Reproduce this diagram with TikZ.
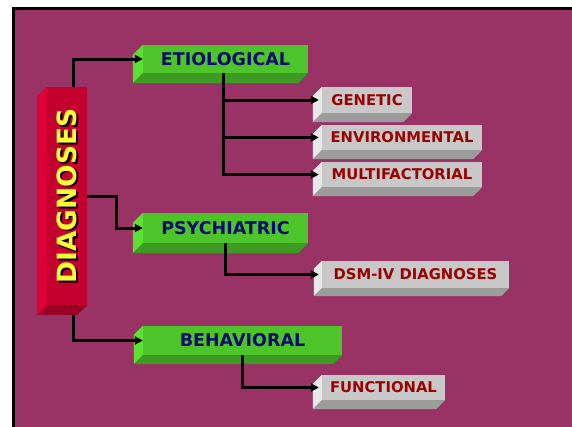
\documentclass[tikz,border=0pt]{standalone}
\usepackage{fontspec}
\setmainfont{DejaVu Sans}
\usetikzlibrary{arrows.meta,calc}
\pgfdeclarelayer{back}
\pgfsetlayers{back,main}

\definecolor{slide}{HTML}{993366}
\definecolor{redface}{HTML}{C4002F}
\definecolor{redlight}{HTML}{DE0036}
\definecolor{reddark}{HTML}{990022}
\definecolor{greenface}{HTML}{4CC42A}
\definecolor{greenlight}{HTML}{5CE034}
\definecolor{greendark}{HTML}{3D9A22}
\definecolor{greyface}{HTML}{C8C8C8}
\definecolor{greylight}{HTML}{E8E8E8}
\definecolor{greydark}{HTML}{9C9C9C}
\definecolor{navytext}{HTML}{0B0B6E}
\definecolor{redtext}{HTML}{990000}
\definecolor{yellowtext}{HTML}{FFFF33}

\tikzset{
  face/.style 2 args={inner sep=0pt, minimum width=#1, minimum height=#2},
  greenbox/.style={fill=greenface, text=navytext,
    font=\bfseries\fontsize{17.5}{17.5}\selectfont},
  greybox/.style={fill=greyface, text=redtext,
    font=\bfseries\fontsize{14.8}{14.8}\selectfont},
  redbox/.style={fill=redface},
  wire/.style={line width=3pt, line cap=butt,
    -{Triangle[length=8pt,width=8pt]}},
}

% side and bottom bevels of a face node: name, light, dark, depth
\newcommand\bevelsides[4]{%
  \fill[#2] (#1.north west) -- (#1.south west) -- ++(-#4,#4)
    -- ($(#1.north west)+(-#4,#4)$) -- cycle;
  \fill[#3] (#1.south west) -- (#1.south east) -- ++(-#4,#4)
    -- ($(#1.south west)+(-#4,#4)$) -- cycle;}

\begin{document}
\begin{tikzpicture}[x=1pt,y=-1pt]
\useasboundingbox (0,0) rectangle (572,426);
\begin{pgfonlayer}{back}
  \fill[white] (0,0) rectangle (572,426);
  \draw[line width=3pt, fill=slide] (13.5,8.5) rectangle (580,434);
\end{pgfonlayer}

% root
\node[redbox, face={40pt}{218pt}] (diag) at (67,196) {};
\bevelsides{diag}{redlight}{reddark}{10}
\node[rotate=90, text=black, font=\bfseries\fontsize{26.5}{26.5}\selectfont]
  (diagshadow) at (68.6,197.6) {DIAGNOSES};
\node[rotate=90, text=yellowtext, font=\bfseries\fontsize{26.5}{26.5}\selectfont]
  (diaglabel) at (67,196) {DIAGNOSES};

% categories
\node[greenbox, face={165pt}{28pt}] (etio) at (225.5,59) {ETIOLOGICAL};
\bevelsides{etio}{greenlight}{greendark}{10}
\node[greenbox, face={165pt}{30pt}] (psych) at (225.5,228) {PSYCHIATRIC};
\bevelsides{psych}{greenlight}{greendark}{10}
\node[greenbox, face={199pt}{29pt}] (behav) at (242.5,340.5) {BEHAVIORAL};
\bevelsides{behav}{greenlight}{greendark}{9}

% leaves
\node[greybox, face={90pt}{26pt}] (gen) at (367,100) {GENETIC};
\bevelsides{gen}{greylight}{greydark}{9}
\node[greybox, face={160pt}{25pt}] (env) at (402,137.5) {ENVIRONMENTAL};
\bevelsides{env}{greylight}{greydark}{9}
\node[greybox, face={160pt}{25pt}] (multi) at (402,174.5) {MULTIFACTORIAL};
\bevelsides{multi}{greylight}{greydark}{9}
\node[greybox, face={187pt}{27pt}] (dsm) at (415.5,274.5) {DSM-IV DIAGNOSES};
\bevelsides{dsm}{greylight}{greydark}{8}
\node[greybox, face={123pt}{25pt}] (func) at (383.5,387.5) {FUNCTIONAL};
\bevelsides{func}{greylight}{greydark}{9}

% connectors
\coordinate (diagfoot) at ($(diag.south)+(6,10)$);
\draw[wire] ([xshift=6pt]diag.north) |- (etio.west);
\draw[wire] (diag.east) -- ++(29,0) |- (psych.west);
\draw[wire] (diagfoot) |- (behav.west);
\draw[wire, shorten >=3pt] ([xshift=-2.5pt]etio.south) |- (gen.west);
\draw[wire, shorten >=3pt] ([xshift=-2.5pt]etio.south) |- (env.west);
\draw[wire, shorten >=3pt] ([xshift=-2.5pt]etio.south) |- (multi.west);
\draw[wire, shorten >=3pt] (psych.south) |- (dsm.west);
\draw[wire, shorten >=3pt] (behav.south) |- (func.west);
\end{tikzpicture}
\end{document}
